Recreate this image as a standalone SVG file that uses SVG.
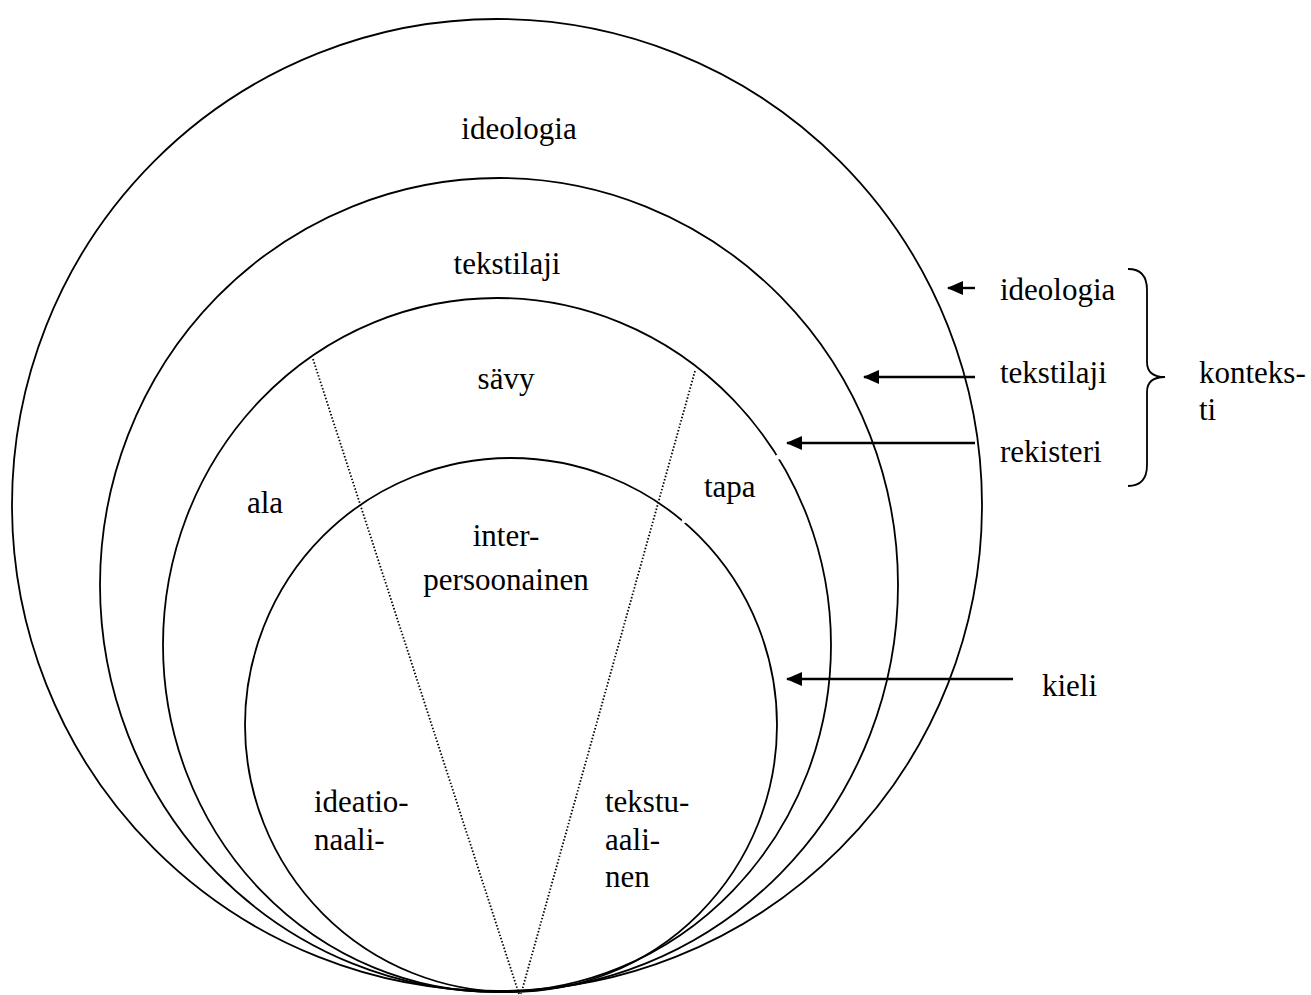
<svg xmlns="http://www.w3.org/2000/svg" width="1311" height="995" viewBox="0 0 1311 995">
<style>
.ring{fill:none;stroke:#000;stroke-width:1.8}
.dot{fill:none;stroke:#000;stroke-width:1.8;stroke-dasharray:1.5 1.9}
.arr{fill:none;stroke:#000;stroke-width:2.4}
.gap{fill:#fff;stroke:none}
.t{font-family:"Liberation Serif","Times New Roman",serif;font-size:31px;fill:#000}
.m{text-anchor:middle}
</style>
<defs>
<marker id="ah" markerUnits="userSpaceOnUse" markerWidth="16" markerHeight="14" refX="15" refY="7" orient="auto" viewBox="0 0 16 14">
<path d="M0,0 L16,7 L0,14 Z" fill="#000"/>
</marker>
</defs>
<rect width="1311" height="995" fill="#fff"/>
<g id="ring-ideologia">
<ellipse class="ring" cx="497" cy="505" rx="485" ry="486"/>
<text class="t m" x="519" y="139">ideologia</text>
</g>
<g id="ring-tekstilaji">
<ellipse class="ring" cx="499" cy="585" rx="399" ry="407"/>
<text class="t m" x="507" y="274">tekstilaji</text>
</g>
<g id="ring-rekisteri">
<ellipse class="ring" cx="497" cy="645" rx="334" ry="347"/>
<circle class="gap" cx="778" cy="457" r="2.6"/>
<text class="t m" x="506" y="389">sävy</text>
<text class="t" x="247" y="513">ala</text>
<text class="t" x="704" y="497">tapa</text>
</g>
<g id="ring-kieli">
<ellipse class="ring" cx="511" cy="725" rx="266" ry="267"/>
<circle class="gap" cx="684" cy="521" r="2.4"/>
<text class="t m" x="506" y="546">inter-</text>
<text class="t m" x="506" y="590">persoonainen</text>
<text class="t" x="314" y="812">ideatio-</text>
<text class="t" x="314" y="850">naali-</text>
<text class="t" x="605" y="812">tekstu-</text>
<text class="t" x="605" y="850">aali-</text>
<text class="t" x="605" y="887">nen</text>
</g>
<g id="connectors">
<line class="dot" x1="313" y1="359" x2="519" y2="994"/>
<line class="dot" x1="695" y1="371" x2="521" y2="994"/>
<line class="arr" x1="975" y1="288" x2="948" y2="288" marker-end="url(#ah)"/>
<line class="arr" x1="975" y1="377" x2="864" y2="377" marker-end="url(#ah)"/>
<line class="arr" x1="975" y1="443" x2="787" y2="443" marker-end="url(#ah)"/>
<line class="arr" x1="1013" y1="679" x2="787" y2="679" marker-end="url(#ah)"/>
<path class="ring" d="M1128 269 Q1147 269 1147 290 L1147 362 Q1147 377 1165 377 Q1147 377 1147 392 L1147 465 Q1147 486 1128 486"/>
</g>
<g id="labels">
<text class="t" x="1000" y="300">ideologia</text>
<text class="t" x="1000" y="383">tekstilaji</text>
<text class="t" x="1000" y="462">rekisteri</text>
<text class="t" x="1199" y="383">konteks-</text>
<text class="t" x="1199" y="420">ti</text>
<text class="t" x="1042" y="696">kieli</text>
</g>
</svg>
